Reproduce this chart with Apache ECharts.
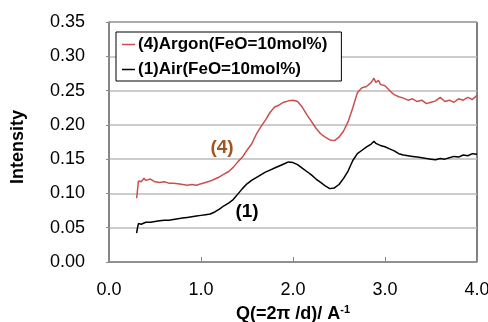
<!DOCTYPE html>
<html><head><meta charset="utf-8">
<script src="https://cdn.jsdelivr.net/npm/echarts@6/dist/echarts.min.js"></script>
<style>html,body{margin:0;padding:0;background:#fff}#c{width:488px;height:322px}</style>
</head><body><div id="c"></div>
<script>
var qArgon = [0.30,0.31,0.32,0.35,0.38,0.40,0.45,0.50,0.55,0.60,0.65,0.70,0.75,0.80,0.85,0.90,0.95,1.00,1.05,1.10,1.15,1.20,1.25,1.30,1.35,1.40,1.45,1.50,1.55,1.60,1.65,1.70,1.75,1.80,1.85,1.90,1.95,2.00,2.05,2.10,2.15,2.20,2.25,2.30,2.35,2.40,2.45,2.50,2.55,2.60,2.65,2.70,2.75,2.80,2.85,2.88,2.90,2.93,2.95,3.00,3.05,3.10,3.15,3.20,3.25,3.30,3.35,3.40,3.45,3.50,3.55,3.60,3.65,3.70,3.75,3.80,3.85,3.90,3.95,4.00];
var argon = [0.093,0.105,0.118,0.117,0.122,0.119,0.121,0.117,0.116,0.117,0.115,0.115,0.114,0.113,0.112,0.113,0.112,0.114,0.116,0.118,0.121,0.124,0.128,0.132,0.138,0.146,0.153,0.163,0.172,0.186,0.197,0.207,0.218,0.226,0.229,0.233,0.235,0.236,0.234,0.226,0.215,0.205,0.195,0.187,0.182,0.178,0.177,0.182,0.191,0.205,0.225,0.247,0.254,0.256,0.262,0.268,0.262,0.265,0.259,0.257,0.250,0.244,0.241,0.239,0.236,0.238,0.234,0.236,0.231,0.233,0.235,0.240,0.234,0.236,0.233,0.238,0.236,0.240,0.237,0.243];
var qAir = [0.30,0.31,0.32,0.35,0.40,0.45,0.50,0.55,0.60,0.65,0.70,0.75,0.80,0.85,0.90,0.95,1.00,1.05,1.10,1.15,1.20,1.25,1.30,1.35,1.40,1.45,1.50,1.55,1.60,1.65,1.70,1.75,1.80,1.85,1.90,1.95,2.00,2.05,2.10,2.15,2.20,2.25,2.30,2.35,2.40,2.45,2.50,2.55,2.60,2.65,2.70,2.75,2.80,2.85,2.88,2.90,2.95,3.00,3.05,3.10,3.15,3.20,3.25,3.30,3.35,3.40,3.45,3.50,3.55,3.60,3.65,3.70,3.75,3.80,3.85,3.90,3.95,4.00];
var air = [0.042,0.050,0.056,0.055,0.058,0.058,0.059,0.060,0.061,0.061,0.062,0.063,0.064,0.065,0.066,0.067,0.068,0.069,0.070,0.073,0.077,0.082,0.086,0.091,0.099,0.107,0.114,0.119,0.123,0.127,0.131,0.134,0.137,0.140,0.143,0.146,0.145,0.142,0.137,0.132,0.127,0.121,0.116,0.111,0.107,0.108,0.113,0.122,0.133,0.148,0.158,0.163,0.168,0.172,0.176,0.173,0.170,0.168,0.165,0.162,0.158,0.156,0.155,0.154,0.153,0.152,0.151,0.150,0.149,0.151,0.150,0.152,0.154,0.153,0.156,0.155,0.158,0.157];
var seriesNames = ['(4)Argon(FeO=10mol%)', '(1)Air(FeO=10mol%)'];

function pairs(xs, ys){ return xs.map(function(x,i){ return [x, ys[i]]; }); }

var chart = echarts.init(document.getElementById('c'));
var font = 'Arial, "Liberation Sans", sans-serif';
chart.setOption({
  animation: false,
  textStyle: {fontFamily: font},
  grid: {left: 109, top: 22, right: 11, bottom: 60, show: true, borderColor: '#000', borderWidth: 1,
         containLabel: false, outerBoundsMode: 'none'},
  legend: {
    orient: 'vertical', left: 116, top: 32,
    data: seriesNames,
    icon: 'rect', itemWidth: 13, itemHeight: 1.5, itemGap: 8,
    backgroundColor: '#fff', borderColor: '#000', borderWidth: 1,
    padding: [4, 14, 3, 6],
    textStyle: {fontFamily: font, fontWeight: 'bold', fontSize: 17, color: '#000', padding: [0,0,0,-2]}
  },
  xAxis: {
    type: 'value', min: 0, max: 4, interval: 1,
    name: '{a|Q(=2π /d)/ A}{b|-1}', nameLocation: 'middle', nameGap: 42,
    nameTextStyle: {rich: {
      a: {fontFamily: font, fontWeight: 'bold', fontSize: 18, color: '#000'},
      b: {fontFamily: font, fontWeight: 'bold', fontSize: 11, color: '#000', padding: [0,0,9,0]}
    }},
    axisLine: {show: true, lineStyle: {color: '#888', width: 1.5}},
    axisTick: {show: true, inside: true, length: 5, lineStyle: {color: '#888'}},
    axisLabel: {fontSize: 18, color: '#000', margin: 19, formatter: function(v){ return v.toFixed(1); }},
    splitLine: {show: false}
  },
  yAxis: {
    type: 'value', min: 0, max: 0.35, interval: 0.05,
    name: 'Intensity', nameLocation: 'middle', nameGap: 82,
    nameTextStyle: {fontFamily: font, fontWeight: 'bold', fontSize: 18, color: '#000', padding: [0, 10, 0, 0]},
    axisLine: {show: true, lineStyle: {color: '#888', width: 1.5}},
    axisTick: {show: true, length: 3, lineStyle: {color: '#888'}},
    axisLabel: {fontSize: 18, color: '#000', margin: 24, formatter: function(v){ return v.toFixed(2); }},
    splitLine: {show: true, lineStyle: {color: '#bbb', width: 1.5}}
  },
  series: [
    {name: seriesNames[0], type: 'line', data: pairs(qArgon, argon), showSymbol: false,
     lineStyle: {color: '#c9504d', width: 1.5}, itemStyle: {color: '#c9504d'}, z: 3},
    {name: seriesNames[1], type: 'line', data: pairs(qAir, air), showSymbol: false,
     lineStyle: {color: '#000', width: 1.5}, itemStyle: {color: '#000'}, z: 4}
  ],
  graphic: [
    {type: 'text', x: 222, y: 148, style: {text: '(4)', font: 'bold 19px ' + font, fill: '#a0561e', align: 'center', verticalAlign: 'middle'}},
    {type: 'text', x: 247, y: 212, style: {text: '(1)', font: 'bold 19px ' + font, fill: '#000', align: 'center', verticalAlign: 'middle'}}
  ]
});
</script></body></html>
